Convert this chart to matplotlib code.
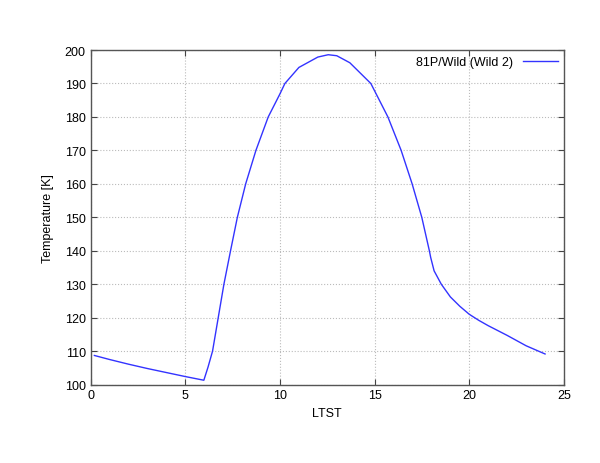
import matplotlib
matplotlib.use("Agg")
import matplotlib.pyplot as plt

ltst = [0.2, 1, 2, 3, 4, 5, 5.98, 6.2, 6.44, 6.74, 7.04, 7.39, 7.75, 8.19, 8.73,
        9.38, 10.0, 10.26, 11.0, 12.0, 12.55, 13.0, 13.69, 14.8, 15.7, 16.4,
        16.98, 17.49, 17.89, 17.96, 18.14, 18.52, 19.0, 19.5, 20.0, 20.5, 21.0,
        22.0, 23.0, 24.0]
temp = [108.7, 107.5, 106.1, 104.8, 103.6, 102.4, 101.3, 105.2, 110.0, 120.0,
        130.0, 140.0, 150.0, 160.0, 170.0, 180.0, 186.9, 190.0, 194.8, 197.9,
        198.6, 198.3, 196.2, 190.0, 180.0, 170.0, 160.0, 150.0, 140.0, 138.0,
        134.0, 130.0, 126.2, 123.4, 121.0, 119.2, 117.6, 114.7, 111.6, 109.15]

plt.rcParams['font.family'] = ['Liberation Sans', 'DejaVu Sans']
fig = plt.figure(figsize=(6, 4.64), dpi=100)
ax = fig.add_axes([0.151, 0.169, 0.789, 0.721])
ax.plot(ltst, temp, color='#3333ff', lw=1.0, label='81P/Wild (Wild 2)')
ax.set_xlim(0, 25)
ax.set_ylim(100, 200)
ax.set_xticks(range(0, 26, 5))
ax.set_yticks(range(100, 201, 10))
ax.grid(True, color='#bbbbbb', linestyle=':', linewidth=0.8)
ax.tick_params(direction='in', top=True, right=True, labelsize=9, length=4, color='#444444')
for s in ax.spines.values():
    s.set_color('#555555')
    s.set_linewidth(1.0)
ax.set_xlabel('LTST', fontsize=9)
ax.set_ylabel('Temperature [K]', fontsize=9, labelpad=8)
leg = ax.legend(loc='upper right', markerfirst=False, frameon=False, fontsize=9,
                handlelength=2.8, borderaxespad=0.1)
fig.savefig('out.png', dpi=100)
